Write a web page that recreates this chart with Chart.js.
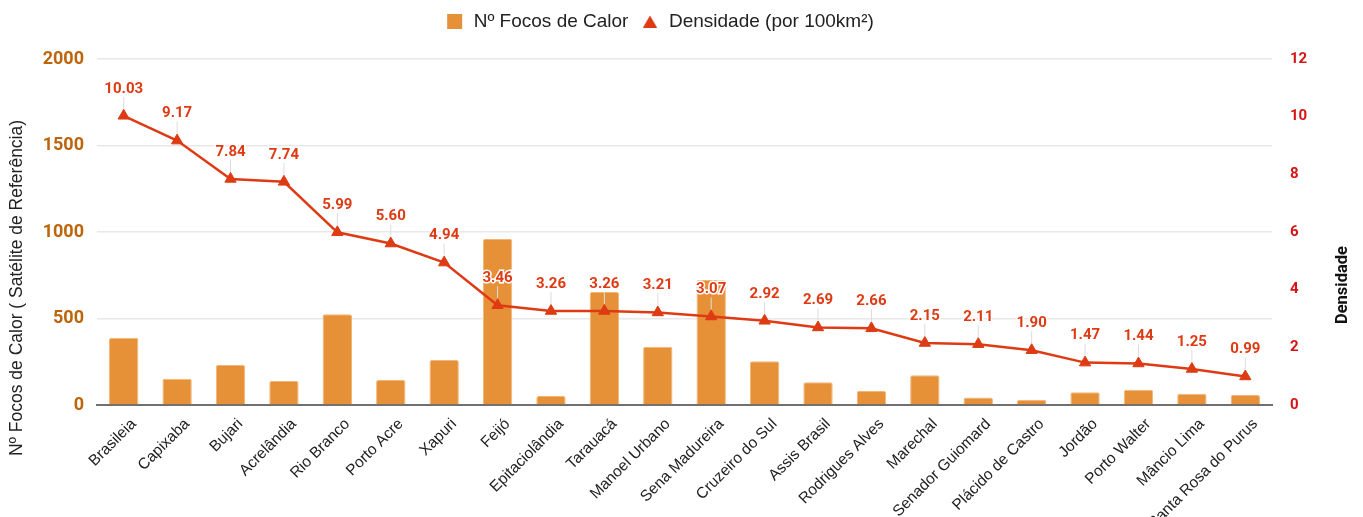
<!DOCTYPE html>
<html>
<head>
<meta charset="utf-8">
<script src="https://cdn.jsdelivr.net/npm/chart.js@4"></script>
<style>
  html, body { margin: 0; padding: 0; background: #fff; }
  #wrap { width: 1363px; height: 517px; }
</style>
</head>
<body>
<div id="wrap"><canvas id="chart"></canvas></div>
<script>
const municipios = ['Brasileia', 'Capixaba', 'Bujari', 'Acrelândia', 'Rio Branco', 'Porto Acre', 'Xapuri', 'Feijó',
  'Epitaciolândia', 'Tarauacá', 'Manoel Urbano', 'Sena Madureira', 'Cruzeiro do Sul', 'Assis Brasil',
  'Rodrigues Alves', 'Marechal', 'Senador Guiomard', 'Plácido de Castro', 'Jordão', 'Porto Walter',
  'Mâncio Lima', 'Santa Rosa do Purus'];
const focos = [389, 152, 231, 139, 524, 145, 260, 960, 52, 653, 337, 722, 253, 131, 81, 172, 44, 31, 73, 88, 65, 58];
const densidade = [10.03, 9.17, 7.84, 7.74, 5.99, 5.60, 4.94, 3.46, 3.26, 3.26, 3.21, 3.07, 2.92, 2.69, 2.66,
  2.15, 2.11, 1.90, 1.47, 1.44, 1.25, 0.99];
const focosTicks = [0, 500, 1000, 1500, 2000];
const densTicks = [0, 2, 4, 6, 8, 10, 12];

const orange = '#e69138';
const red = '#de3b14';

// small triangle used as the legend marker of the line
const legendTri = document.createElement('canvas');
legendTri.width = 14;
legendTri.height = 12;
(function () {
  const c = legendTri.getContext('2d');
  c.fillStyle = red;
  c.beginPath();
  c.moveTo(7, 0);
  c.lineTo(14, 12);
  c.lineTo(0, 12);
  c.closePath();
  c.fill();
})();

// legend: fixed height and nudged a bit to the left
const legendTweak = {
  id: 'legendTweak',
  afterInit(chart) {
    const lg = chart.legend;
    const fit = lg.fit;
    lg.fit = function () { fit.call(this); this.height = 59; };
    const draw = lg._draw;
    lg._draw = function () {
      const r = this.right;
      this.right -= 44;
      draw.call(this);
      this.right = r;
    };
  }
};

// labels above the density points, with a thin leader line, plus axis titles
const pointLabels = {
  id: 'pointLabels',
  afterDatasetsDraw(chart) {
    const meta = chart.getDatasetMeta(1);
    const ctx = chart.ctx;
    ctx.save();
    meta.data.forEach((pt, i) => {
      ctx.strokeStyle = '#dcdcdc';
      ctx.lineWidth = 1;
      ctx.beginPath();
      ctx.moveTo(pt.x, pt.y - 7);
      ctx.lineTo(pt.x, pt.y - 19);
      ctx.stroke();
      const txt = densidade[i].toFixed(2);
      ctx.font = 'bold 15px Roboto';
      ctx.textAlign = 'center';
      ctx.textBaseline = 'middle';
      ctx.lineWidth = 3;
      ctx.strokeStyle = '#fff';
      ctx.strokeText(txt, pt.x, pt.y - 27);
      ctx.fillStyle = red;
      ctx.fillText(txt, pt.x, pt.y - 27);
    });

    ctx.textAlign = 'center';
    ctx.textBaseline = 'middle';
    ctx.save();
    ctx.translate(17, 288);
    ctx.rotate(-Math.PI / 2);
    ctx.font = '17.5px "Liberation Sans"';
    ctx.fillStyle = '#222';
    ctx.fillText('Nº Focos de Calor ( Satélite de Referência)', 0, 0);
    ctx.restore();
    ctx.save();
    ctx.translate(1343, 285);
    ctx.rotate(-Math.PI / 2);
    ctx.font = 'bold 16.5px Roboto';
    ctx.fillStyle = '#111';
    ctx.fillText('Densidade', 0, 0);
    ctx.restore();
    ctx.restore();
  }
};

new Chart(document.getElementById('chart'), {
  data: {
    labels: municipios,
    datasets: [{
      type: 'bar',
      label: 'Nº Focos de Calor',
      data: focos,
      yAxisID: 'y',
      backgroundColor: orange,
      borderColor: '#f2b577',
      borderWidth: 1,
      borderRadius: 2,
      borderSkipped: 'bottom',
      barPercentage: 0.55,
      categoryPercentage: 1,
      order: 1
    }, {
      type: 'line',
      label: 'Densidade (por 100km²)',
      data: densidade,
      yAxisID: 'y1',
      borderColor: red,
      backgroundColor: red,
      borderWidth: 2.5,
      pointStyle: 'triangle',
      pointRadius: 6.5,
      pointHoverRadius: 6.5,
      pointBorderWidth: 1,
      tension: 0,
      order: 0
    }]
  },
  options: {
    responsive: true,
    maintainAspectRatio: false,
    animation: false,
    layout: { padding: 0 },
    plugins: {
      tooltip: { enabled: false },
      legend: {
        position: 'top',
        labels: {
          usePointStyle: true,
          boxHeight: 15,
          padding: 12,
          color: '#222',
          font: { family: 'Liberation Sans', size: 19 },
          generateLabels: chart => [
            { text: 'Nº Focos de Calor', fillStyle: orange, strokeStyle: orange, lineWidth: 0,
              pointStyle: 'rect', datasetIndex: 0, fontColor: '#222' },
            { text: 'Densidade (por 100km²)', fillStyle: red, strokeStyle: red, lineWidth: 0,
              pointStyle: legendTri, datasetIndex: 1, fontColor: '#222' }
          ]
        }
      }
    },
    scales: {
      x: {
        grid: { display: false },
        border: { color: '#707070', width: 2 },
        ticks: {
          color: '#222',
          font: { family: 'Liberation Sans', size: 15.5 },
          maxRotation: 45,
          minRotation: 45,
          labelOffset: 10,
          padding: 2,
          autoSkip: false
        },
        afterFit: s => { s.height = 112; }
      },
      y: {
        position: 'left',
        min: 0,
        max: 2000,
        afterBuildTicks: s => { s.ticks = focosTicks.map(v => ({ value: v })); },
        grid: { color: '#e8e8e8', drawTicks: false, lineWidth: 1.5 },
        border: { display: false },
        ticks: {
          color: '#bd650c',
          padding: 13,
          font: { family: 'Roboto', size: 18, weight: 'bold' },
          callback: v => String(v)
        },
        afterFit: s => { s.width = 97; }
      },
      y1: {
        position: 'right',
        min: 0,
        max: 12,
        afterBuildTicks: s => { s.ticks = densTicks.map(v => ({ value: v })); },
        grid: { display: false },
        border: { display: false },
        ticks: {
          color: '#d51515',
          padding: 10,
          font: { family: 'Roboto', size: 15, weight: 'bold' }
        },
        afterFit: s => { s.width = 91; }
      }
    }
  },
  plugins: [legendTweak, pointLabels]
});
</script>
</body>
</html>
